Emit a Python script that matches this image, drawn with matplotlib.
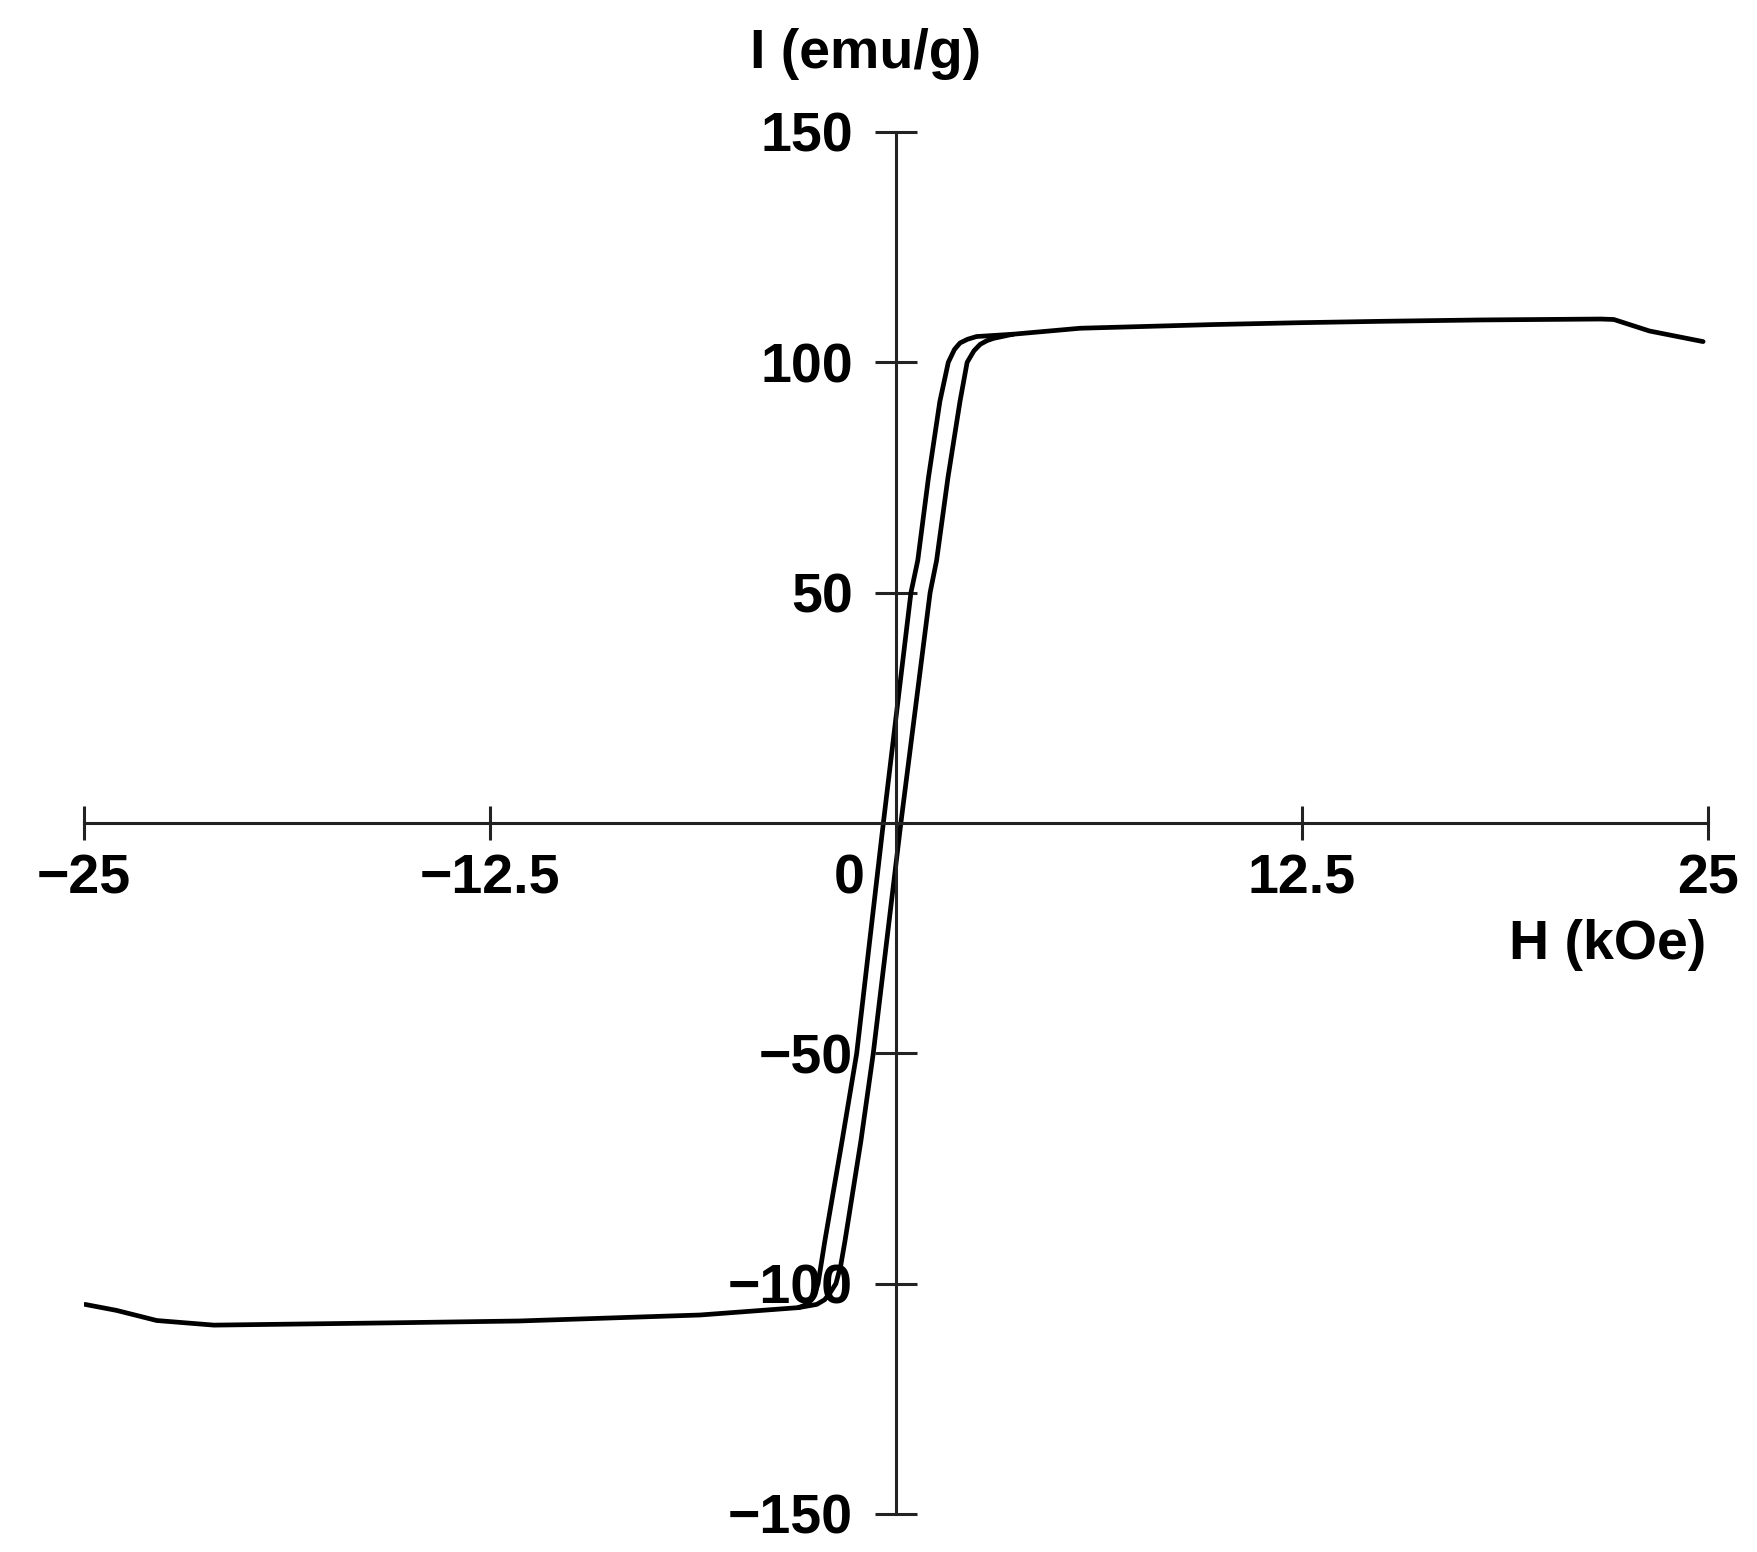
import matplotlib
matplotlib.use("Agg")
import matplotlib.pyplot as plt
import matplotlib.transforms as mtransforms

plt.rcParams['font.family'] = ['Liberation Sans', 'DejaVu Sans']

# saturation parts, shared by both branches
sat_top_H = [3.6, 5.67, 9.77, 12.4, 14.9, 18.0, 21.7, 22.1, 23.2, 24.85]
sat_top_I = [106.1, 107.4, 108.2, 108.6, 108.9, 109.2, 109.4, 109.3, 106.8, 104.5]
sat_bot_H = [-24.97, -24.0, -22.76, -21.0, -15.5, -11.6, -6.03, -3.0]
sat_bot_I = [-104.5, -105.8, -108.0, -109.0, -108.5, -108.1, -106.8, -105.2]

# descending branch (field going from + to -)
desc_H = [3.6, 2.48, 2.2, 1.97, 1.8, 1.61, 1.35, 1.0, 0.67, 0.46, -0.39, -1.21, -1.66,
          -2.19, -2.4, -2.5, -2.6, -2.75, -3.0]
desc_I = [106.1, 105.6, 105.0, 104.2, 102.8, 100.0, 91.5, 75.0, 57.0, 50.0, 0.0, -50.0, -69.0,
          -90.7, -100.0, -102.2, -103.5, -104.5, -105.2]

# ascending branch (field going from - to +)
asc_H = [-3.0, -2.44, -2.2, -2.05, -1.85, -1.7, -1.57, -1.08, -0.70, 0.15, 1.05, 1.25, 1.6,
         1.97, 2.19, 2.4, 2.59, 2.8, 3.0, 3.6]
asc_I = [-105.2, -104.5, -103.5, -102.2, -100.0, -96.0, -90.7, -69.0, -50.0, 0.0, 50.0, 57.0, 75.0,
         91.5, 100.0, 102.5, 103.9, 104.7, 105.2, 106.1]

x_ticks = [-25, -12.5, 12.5, 25]
x_tick_labels = ['\u221225', '\u221212.5', '12.5', '25']
y_ticks = [150, 100, 50, -50, -100, -150]
y_tick_labels = ['150', '100', '50', '\u221250', '\u2212100', '\u2212150']

W, Hpx = 1758, 1552
fig = plt.figure(figsize=(W / 100, Hpx / 100), dpi=100)
ax = fig.add_axes([84 / W, (Hpx - 1514) / Hpx, 1624 / W, 1382 / Hpx])
ax.set_xlim(-25, 25)
ax.set_ylim(-150, 150)

line_kw = dict(color='black', lw=3.4, solid_capstyle='round', solid_joinstyle='round')
ax.plot(sat_top_H, sat_top_I, **line_kw)
ax.plot(sat_bot_H, sat_bot_I, **line_kw)
ax.plot(desc_H, desc_I, **line_kw)
ax.plot(asc_H, asc_I, **line_kw)

# axes crossing at the origin
for s in ['top', 'right']:
    ax.spines[s].set_visible(False)
ax.spines['left'].set_position(('data', 0))
ax.spines['bottom'].set_position(('data', 0))
for s in ['left', 'bottom']:
    ax.spines[s].set_linewidth(2.2)
    ax.spines[s].set_color('#222222')

fkw = dict(fontsize=40, fontweight='bold')
ax.set_xticks(x_ticks)
ax.set_xticklabels(x_tick_labels, **fkw)
ax.set_yticks(y_ticks)
ax.set_yticklabels(y_tick_labels, **fkw)
ax.tick_params(axis='x', direction='inout', length=24, width=2.2, pad=10, colors='#222222', labelcolor='black')
ax.tick_params(axis='y', direction='inout', length=30, width=2.2, pad=16, colors='#222222', labelcolor='black')

# origin label sits just left of the vertical axis
trans = mtransforms.blended_transform_factory(ax.transData, ax.transData)
ax.text(-1.45, -12.2, '0', ha='center', va='center', transform=trans, **fkw)

# axis titles
fig.text(866 / W, 1 - 54 / Hpx, 'I (emu/g)', ha='center', va='center', **fkw)
fig.text(1706 / W, 1 - 945 / Hpx, 'H (kOe)', ha='right', va='center', **fkw)

fig.savefig('out.png', dpi=100, facecolor='white')
